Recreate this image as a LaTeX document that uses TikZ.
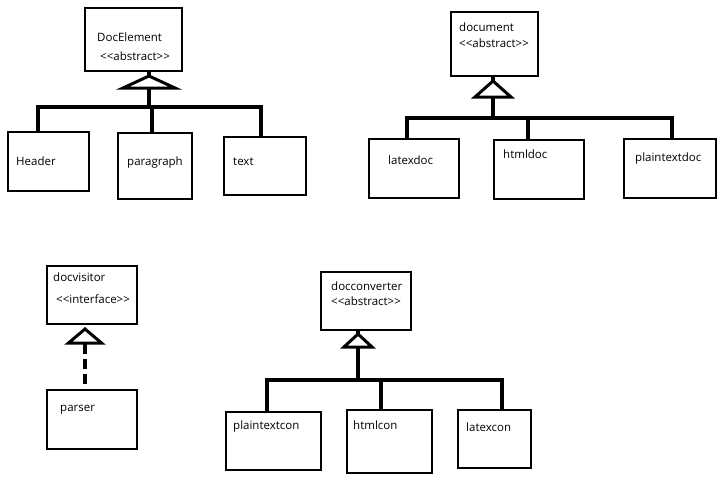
\documentclass[tikz,border=0pt]{standalone}
\usepackage{fontspec}
\setmainfont{Open Sans}

\begin{document}
\begin{tikzpicture}[x=1pt,y=1pt,
  cls/.style={draw,line width=2pt,inner sep=0pt},
  lbl/.style={anchor=base west,inner sep=0pt,font=\fontsize{11.5}{13}\selectfont},
  conn/.style={line width=3.2pt},
  head/.style={line width=3pt,fill=white,line join=miter}]

\newcommand\BARA{-107}
\newcommand\BARB{-118}
\newcommand\BARC{-380}

  \useasboundingbox (0,0) rectangle (720,-487);

  %% classes
  \node[cls,minimum width=97pt,minimum height=63pt] (docel) at (133.5,-39.5) {};
  \node[cls,minimum width=81pt,minimum height=59pt] (hdr) at (48.5,-161.5) {};
  \node[cls,minimum width=74pt,minimum height=66pt] (para) at (155,-166) {};
  \node[cls,minimum width=82pt,minimum height=58pt] (txt) at (265,-166) {};

  \node[cls,minimum width=87pt,minimum height=64pt] (doc) at (494.5,-44) {};
  \node[cls,minimum width=90pt,minimum height=59pt] (latexdoc) at (414,-168.5) {};
  \node[cls,minimum width=90pt,minimum height=59pt] (htmldoc) at (539,-169.5) {};
  \node[cls,minimum width=92pt,minimum height=59pt] (plaindoc) at (670,-168.5) {};

  \node[cls,minimum width=90pt,minimum height=58pt] (visitor) at (92,-295) {};
  \node[cls,minimum width=90pt,minimum height=59pt] (parser) at (92,-419.5) {};

  \node[cls,minimum width=90pt,minimum height=58pt] (conv) at (366,-301) {};
  \node[cls,minimum width=95pt,minimum height=58pt] (plaincon) at (273.5,-441) {};
  \node[cls,minimum width=85pt,minimum height=63pt] (htmlcon) at (389.5,-441.5) {};
  \node[cls,minimum width=73pt,minimum height=58pt] (latexcon) at (494.5,-439) {};

  %% labels
  \node[lbl] (docelname) at (97,-42) {DocElement};
  \node[lbl] (docelstereo) at (100,-61) {<{}<abstract>{}>};
  \node[lbl] (hdrname) at (16,-165) {Header};
  \node[lbl] (paraname) at (127,-165.5) {paragraph};
  \node[lbl] (txtname) at (233,-165.5) {text};

  \node[lbl] (docname) at (459,-32) {document};
  \node[lbl] (docstereo) at (459,-47.5) {<{}<abstract>{}>};
  \node[lbl] (latexdocname) at (388,-164.5) {latexdoc};
  \node[lbl] (htmldocname) at (503,-158.5) {htmldoc};
  \node[lbl] (plaindocname) at (635,-161) {plaintextdoc};

  \node[lbl] (visitorname) at (53,-281) {docvisitor};
  \node[lbl] (visitorstereo) at (56,-303) {<{}<interface>{}>};
  \node[lbl] (parsername) at (60,-411) {parser};

  \node[lbl] (convname) at (331,-290) {docconverter};
  \node[lbl] (convstereo) at (331,-305.5) {<{}<abstract>{}>};
  \node[lbl] (plainconname) at (233,-429) {plaintextcon};
  \node[lbl] (htmlconname) at (353,-429) {htmlcon};
  \node[lbl] (latexconname) at (466,-431) {latexcon};

  %% bar points
  \coordinate (ba1) at (38,\BARA);
  \coordinate (ba2) at (152,\BARA);
  \coordinate (ba3) at (261,\BARA);
  \coordinate (ja) at (149,\BARA);

  \coordinate (bb1) at (407,\BARB);
  \coordinate (bb2) at (528,\BARB);
  \coordinate (bb3) at (672,\BARB);
  \coordinate (jb) at (493,\BARB);

  \coordinate (bc1) at (267,\BARC);
  \coordinate (bc2) at (381,\BARC);
  \coordinate (bc3) at (502,\BARC);
  \coordinate (jc) at (358,\BARC);

  %% DocElement tree
  \draw[conn] (ba1 |- hdr.north) -- (ba1) -- (ba3) -- (ba3 |- txt.north);
  \draw[conn] (ba2) -- (ba2 |- para.north);
  \draw[conn] (ja) -- (ja |- docel.south);
  \draw[head] (ja |- docel.south) ++(0,-4) -- ++(26,-12) -- ++(-52,0) -- cycle;

  %% document tree
  \draw[conn] (bb1 |- latexdoc.north) -- (bb1) -- (bb3) -- (bb3 |- plaindoc.north);
  \draw[conn] (bb2) -- (bb2 |- htmldoc.north);
  \draw[conn] (jb) -- (jb |- doc.south);
  \draw[head] (jb |- doc.south) ++(0,-4) -- ++(18,-16) -- ++(-36,0) -- cycle;

  %% visitor (realization)
  \draw[conn,shorten <=5pt,dash pattern=on 10pt off 5pt]
  ([xshift=-7pt]parser.north) -- ([xshift=-7pt]visitor.south);
  \draw[head] ([xshift=-7pt]visitor.south) ++(0,-4) -- ++(16.5,-14) -- ++(-33,0) -- cycle;

  %% docconverter tree
  \draw[conn] (bc1 |- plaincon.north) -- (bc1) -- (bc3) -- (bc3 |- latexcon.north);
  \draw[conn] (bc2) -- (bc2 |- htmlcon.north);
  \draw[conn] (jc) -- (jc |- conv.south);
  \draw[head] (jc |- conv.south) ++(0,-3) -- ++(14,-13) -- ++(-28,0) -- cycle;

\end{tikzpicture}
\end{document}
